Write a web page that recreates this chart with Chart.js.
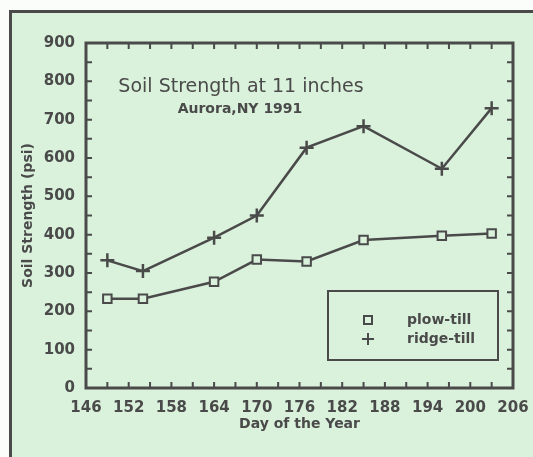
<!DOCTYPE html>
<html><head><meta charset="utf-8">
<script src="https://cdn.jsdelivr.net/npm/chart.js@4.4.0/dist/chart.umd.min.js"></script>
<style>
html,body{margin:0;padding:0;background:#fbfdfb;width:533px;height:457px;overflow:hidden}
#frame{position:absolute;left:9px;top:10px;width:540px;height:470px;border:3px solid #4a4a4a;background:#daf2db;box-sizing:border-box}
#wrap{position:absolute;left:0;top:0;width:533px;height:457px}
</style></head><body>
<div id="frame"></div>
<div id="wrap"><canvas id="c" width="533" height="457"></canvas></div>
<script>
const days = [149, 154, 164, 170, 177, 185, 196, 203];
const plowTill = [233, 233, 277, 335, 330, 386, 397, 403];
const ridgeTill = [333, 305, 392, 450, 627, 683, 572, 730];
const xTickLabels = [146, 152, 158, 164, 170, 176, 182, 188, 194, 200, 206];
const yTickLabels = [0, 100, 200, 300, 400, 500, 600, 700, 800, 900];
const seriesNames = ['plow-till', 'ridge-till'];
const chartTitle = 'Soil Strength at 11 inches';
const chartSubtitle = 'Aurora,NY 1991';
const xTitle = 'Day of the Year';
const yTitle = 'Soil Strength (psi)';

const INK = '#4a4a4a';
const BG = '#daf2db';
const FONT = '"DejaVu Sans", sans-serif';

const framePlugin = {
  id: 'framePlugin',
  afterDraw(chart) {
    const ctx = chart.ctx;
    const ca = chart.chartArea;
    const xs = chart.scales.x, ys = chart.scales.y;
    ctx.save();
    ctx.strokeStyle = INK;
    ctx.lineWidth = 3;
    ctx.strokeRect(ca.left, ca.top, ca.right - ca.left, ca.bottom - ca.top);
    ctx.lineWidth = 2;
    ctx.beginPath();
    for (let v = xs.min + 3; v < xs.max; v += 3) {
      const px = xs.getPixelForValue(v);
      ctx.moveTo(px, ca.bottom); ctx.lineTo(px, ca.bottom - 6);
      ctx.moveTo(px, ca.top); ctx.lineTo(px, ca.top + 6);
    }
    for (let v = ys.min + 50; v < ys.max; v += 50) {
      const py = ys.getPixelForValue(v);
      ctx.moveTo(ca.left, py); ctx.lineTo(ca.left + 6, py);
      ctx.moveTo(ca.right, py); ctx.lineTo(ca.right - 6, py);
    }
    ctx.stroke();

    // in-plot titles
    ctx.fillStyle = INK;
    ctx.textAlign = 'center';
    ctx.textBaseline = 'middle';
    ctx.font = '19px ' + FONT;
    ctx.fillText(chartTitle, 241, 87);
    ctx.font = 'bold 14px ' + FONT;
    ctx.fillText(chartSubtitle, 240, 109);

    // legend box
    ctx.lineWidth = 2;
    ctx.strokeRect(328, 291, 170, 69);
    const rows = [320, 339];
    chart.data.datasets.forEach((ds, i) => {
      ctx.strokeStyle = INK;
      ctx.fillStyle = BG;
      ctx.lineWidth = 2;
      if (ds.pointStyle === 'rect') {
        ctx.fillRect(364, rows[i] - 4, 8, 8);
        ctx.strokeRect(364, rows[i] - 4, 8, 8);
      } else {
        ctx.beginPath();
        ctx.moveTo(362, rows[i]); ctx.lineTo(374, rows[i]);
        ctx.moveTo(368, rows[i] - 6); ctx.lineTo(368, rows[i] + 6);
        ctx.stroke();
      }
      ctx.fillStyle = INK;
      ctx.textAlign = 'left';
      ctx.font = 'bold 14px ' + FONT;
      ctx.fillText(ds.label, 407, rows[i]);
    });
    ctx.restore();
  }
};

new Chart(document.getElementById('c'), {
  type: 'line',
  data: {
    datasets: [
      {
        label: seriesNames[0],
        data: days.map((d, i) => ({x: d, y: plowTill[i]})),
        borderColor: INK, borderWidth: 2.5,
        pointStyle: 'rect', pointRadius: 6, pointBorderWidth: 2,
        pointBackgroundColor: BG, pointBorderColor: INK, tension: 0
      },
      {
        label: seriesNames[1],
        data: days.map((d, i) => ({x: d, y: ridgeTill[i]})),
        borderColor: INK, borderWidth: 2.5,
        pointStyle: 'cross', pointRadius: 7, pointBorderWidth: 2.5,
        pointBorderColor: INK, tension: 0
      }
    ]
  },
  options: {
    responsive: false,
    animation: false,
    layout: {padding: {top: 43, right: 20, left: 0, bottom: 0}},
    plugins: {legend: {display: false}, tooltip: {enabled: false}},
    scales: {
      x: {
        type: 'linear', min: xTickLabels[0], max: xTickLabels[xTickLabels.length - 1],
        afterBuildTicks(s) { s.ticks = xTickLabels.map(v => ({value: v})); },
        afterFit(s) { s.height = 69; s.paddingLeft = 0; s.paddingRight = 0; },
        grid: {display: false, drawTicks: false},
        border: {display: false},
        ticks: {color: INK, font: {family: FONT, size: 15, weight: 'bold'}, padding: 11, maxRotation: 0, autoSkip: false},
        title: {display: true, text: xTitle, color: INK, font: {family: FONT, size: 14, weight: 'bold'}, padding: {top: 0, bottom: 24}}
      },
      y: {
        type: 'linear', min: yTickLabels[0], max: yTickLabels[yTickLabels.length - 1],
        afterBuildTicks(s) { s.ticks = yTickLabels.map(v => ({value: v})); },
        afterFit(s) { s.width = 86; s.paddingTop = 0; s.paddingBottom = 0; },
        grid: {display: false, drawTicks: false},
        border: {display: false},
        ticks: {color: INK, font: {family: FONT, size: 15, weight: 'bold'}, padding: 11},
        title: {display: true, text: yTitle, color: INK, font: {family: FONT, size: 14, weight: 'bold'}, padding: {top: 20, bottom: 0}}
      }
    }
  },
  plugins: [framePlugin]
});
</script>
</body></html>
